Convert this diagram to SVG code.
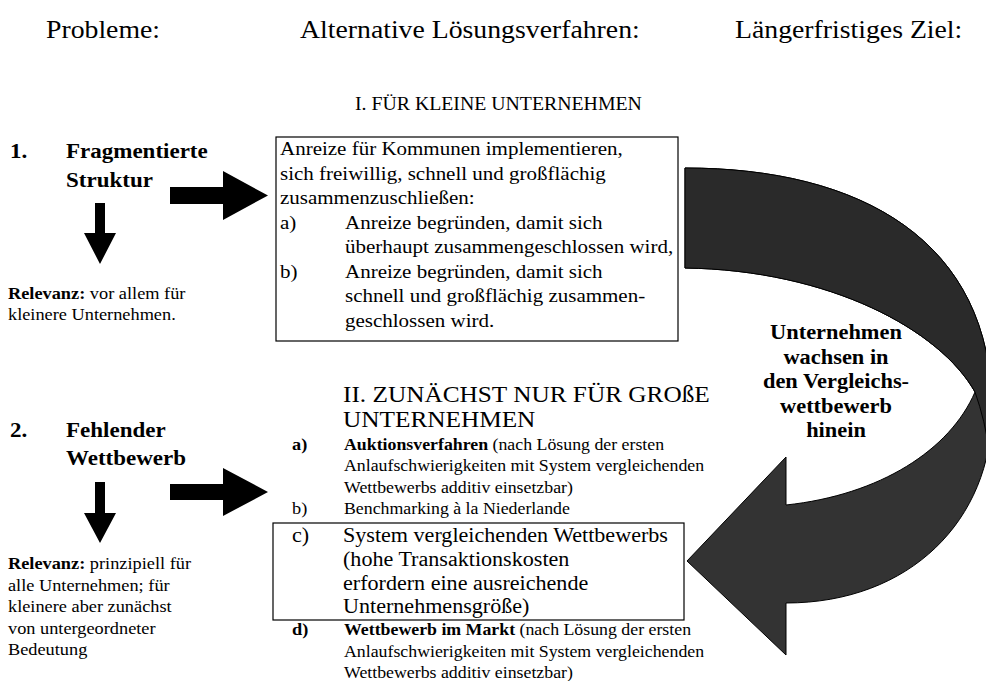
<svg xmlns="http://www.w3.org/2000/svg" width="986" height="681" viewBox="0 0 986 681" font-family="'Liberation Serif', 'DejaVu Serif', serif">
<style>
  text { font-family: "Liberation Serif", "DejaVu Serif", serif; fill: #000; }
  .h { font-size: 25px; }
  .t1 { font-size: 18px; }
  .t2 { font-size: 23px; }
  .m { font-size: 19px; }
  .c { font-size: 20px; }
  .s { font-size: 16.5px; }
  .k { font-size: 20px; font-weight: bold; }
  .bold { font-weight: bold; }
  .box { fill: #fff; stroke: #000; stroke-width: 1.2; }
  .blk { fill: #000; stroke: none; }
  .curve { fill: #333; stroke: #000; stroke-width: 1; stroke-linejoin: round; }
  .curve2 { fill: #2a2a2a; stroke: #000; stroke-width: 1; stroke-linejoin: round; }
</style>

<g id="headers">
  <text class="h" transform="translate(46,38) scale(1.11,1)">Probleme:</text>
  <text class="h" transform="translate(300,38) scale(1.11,1)">Alternative Lösungsverfahren:</text>
  <text class="h" transform="translate(735,38) scale(1.11,1)">Längerfristiges Ziel:</text>
</g>

<g id="connectors">
  <polygon class="blk" points="170,187 223,187 223,171 268,195.5 223,220 223,204 170,204"/>
  <polygon class="blk" points="95,203 105,203 105,233 116,233 100,264 84,233 95,233"/>
  <polygon class="blk" points="170,484 223,484 223,468 268,492 223,516 223,500 170,500"/>
  <polygon class="blk" points="95,482 105,482 105,513 116,513 100,543 84,513 95,513"/>
  <g id="curved-arrow">
    <path class="curve" d="M685,168 C860,168 992,240 992,410 C992,520 910,603 786,603 L786,655 L687,561 L786,457 L786,505 C880,495 950,450 975,392 C940,330 830,270 685,268 Z"/>
    <path class="curve2" d="M685,168 C860,168 992,240 992,410 L990,455 Q985,420 975,392 C940,330 830,270 685,268 Z"/>
  </g>
</g>

<g id="problem-1">
  <text class="k" transform="translate(10,158) scale(1.15,1)">1.</text>
  <text class="k" transform="translate(66,158) scale(1.15,1)">Fragmentierte</text>
  <text class="k" transform="translate(66,187) scale(1.15,1)">Struktur</text>
  <text class="s" transform="translate(8,299) scale(1.11,1)"><tspan class="bold">Relevanz:</tspan> vor allem für</text>
  <text class="s" transform="translate(8,320) scale(1.11,1)">kleinere Unternehmen.</text>
</g>

<g id="problem-2">
  <text class="k" transform="translate(10,437) scale(1.15,1)">2.</text>
  <text class="k" transform="translate(66,437) scale(1.15,1)">Fehlender</text>
  <text class="k" transform="translate(66,465) scale(1.15,1)">Wettbewerb</text>
  <text class="s" transform="translate(8,569) scale(1.11,1)"><tspan class="bold">Relevanz:</tspan> prinzipiell für</text>
  <text class="s" transform="translate(8,590.5) scale(1.11,1)">alle Unternehmen; für</text>
  <text class="s" transform="translate(8,612) scale(1.11,1)">kleinere aber zunächst</text>
  <text class="s" transform="translate(8,633.5) scale(1.11,1)">von untergeordneter</text>
  <text class="s" transform="translate(8,655) scale(1.11,1)">Bedeutung</text>
</g>

<g id="solution-small">
  <text class="t1" transform="translate(355,110) scale(1.1,1)">I. FÜR KLEINE UNTERNEHMEN</text>
  <rect class="box" x="276" y="137" width="402" height="204"/>
  <text class="m" transform="translate(280,155) scale(1.105,1)">Anreize für Kommunen implementieren,</text>
  <text class="m" transform="translate(280,179.5) scale(1.105,1)">sich freiwillig, schnell und großflächig</text>
  <text class="m" transform="translate(280,204) scale(1.105,1)">zusammenzuschließen:</text>
  <text class="m" transform="translate(280,228.5) scale(1.105,1)">a)</text>
  <text class="m" transform="translate(345,228.5) scale(1.105,1)">Anreize begründen, damit sich</text>
  <text class="m" transform="translate(345,253) scale(1.105,1)">überhaupt zusammengeschlossen wird,</text>
  <text class="m" transform="translate(280,277.5) scale(1.105,1)">b)</text>
  <text class="m" transform="translate(345,277.5) scale(1.105,1)">Anreize begründen, damit sich</text>
  <text class="m" transform="translate(345,302) scale(1.105,1)">schnell und großflächig zusammen-</text>
  <text class="m" transform="translate(345,326.5) scale(1.105,1)">geschlossen wird.</text>
</g>

<g id="solution-large">
  <text class="t2" transform="translate(343,402) scale(1.1,1)">II. ZUNÄCHST NUR FÜR GROßE</text>
  <text class="t2" transform="translate(343,427) scale(1.1,1)">UNTERNEHMEN</text>
  <text class="s bold" transform="translate(292,450) scale(1.11,1)">a)</text>
  <text class="s" transform="translate(344,450) scale(1.08,1)"><tspan class="bold">Auktionsverfahren</tspan> (nach Lösung der ersten</text>
  <text class="s" transform="translate(344,471) scale(1.08,1)">Anlaufschwierigkeiten mit System vergleichenden</text>
  <text class="s" transform="translate(344,492.5) scale(1.08,1)">Wettbewerbs additiv einsetzbar)</text>
  <text class="s" transform="translate(292,513.5) scale(1.11,1)">b)</text>
  <text class="s" transform="translate(344,513.5) scale(1.08,1)">Benchmarking à la Niederlande</text>
  <rect class="box" x="273" y="523" width="411" height="97"/>
  <text class="c" transform="translate(292,542) scale(1.105,1)">c)</text>
  <text class="c" transform="translate(343,542) scale(1.105,1)">System vergleichenden Wettbewerbs</text>
  <text class="c" transform="translate(343,566) scale(1.105,1)">(hohe Transaktionskosten</text>
  <text class="c" transform="translate(343,590) scale(1.105,1)">erfordern eine ausreichende</text>
  <text class="c" transform="translate(343,613) scale(1.105,1)">Unternehmensgröße)</text>
  <text class="s bold" transform="translate(292,635) scale(1.11,1)">d)</text>
  <text class="s" transform="translate(344,635) scale(1.08,1)"><tspan class="bold">Wettbewerb im Markt</tspan> (nach Lösung der ersten</text>
  <text class="s" transform="translate(344,656.5) scale(1.08,1)">Anlaufschwierigkeiten mit System vergleichenden</text>
  <text class="s" transform="translate(344,678) scale(1.08,1)">Wettbewerbs additiv einsetzbar)</text>
</g>

<g id="goal-label" text-anchor="middle">
  <text class="k" transform="translate(836,339) scale(1.12,1)">Unternehmen</text>
  <text class="k" transform="translate(836,363.5) scale(1.12,1)">wachsen in</text>
  <text class="k" transform="translate(836,388) scale(1.12,1)">den Vergleichs-</text>
  <text class="k" transform="translate(836,412.5) scale(1.12,1)">wettbewerb</text>
  <text class="k" transform="translate(836,437) scale(1.12,1)">hinein</text>
</g>
</svg>
